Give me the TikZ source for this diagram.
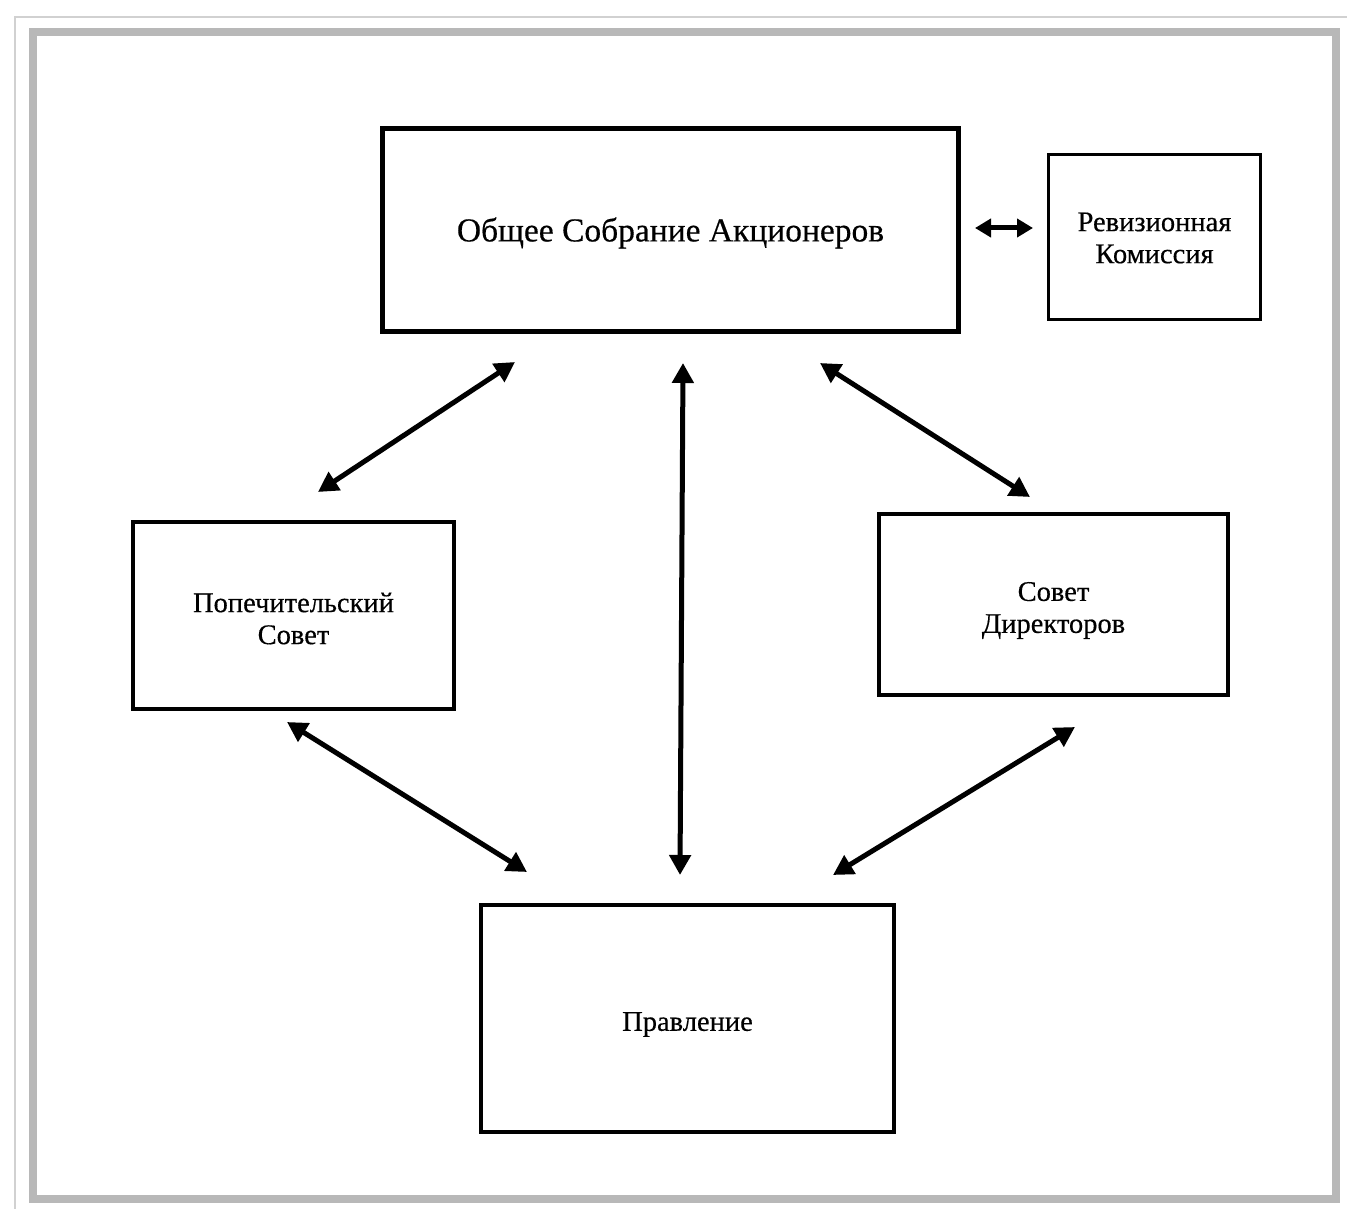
\documentclass[tikz,border=0pt]{standalone}
\usepackage{fontspec}
\setmainfont{Liberation Serif}
\newfontfamily\scanfont[FakeBold=0.4]{Liberation Serif}
\usetikzlibrary{arrows.meta}
\newcommand\lowered[2]{\raisebox{-#1}[\height][\depth]{#2}}
\begin{document}
\begin{tikzpicture}[x=1pt,y=-1pt,
  box/.style={draw=black, line width=4pt, rectangle, inner sep=0pt, align=center,
    font=\scanfont\fontsize{28.5}{32}\selectfont},
  conn/.style={line width=5pt, {Triangle[length=20pt,width=21pt]}-{Triangle[length=20pt,width=21pt]}},
  frameline/.style={draw=black!28, line width=8pt}]
\useasboundingbox (0,0) rectangle (1347,1209);
% frame
\draw[black!18, line width=2pt] (15,1209) -- (15,17) -- (1347,17);
\draw[frameline] (33,32) rectangle (1336,1199);
% nodes
\node[box, line width=5pt, minimum width=576pt, minimum height=203pt,
  font=\scanfont\fontsize{33.5}{36}\selectfont] (osa) at (670.5,230) {\lowered{3pt}{Общее Собрание Акционеров}};
\node[box, line width=3.5pt, minimum width=212pt, minimum height=165pt] (rev) at (1154.5,237) {\lowered{1pt}{Ревизионная}\\\lowered{1pt}{Комиссия}};
\node[box, minimum width=321pt, minimum height=187pt] (pop) at (293.5,615.5) {\lowered{3pt}{Попечительский}\\\lowered{3pt}{Совет}};
\node[box, minimum width=349pt, minimum height=181pt] (sd) at (1053.5,604.5) {\lowered{6pt}{Совет}\\\lowered{6pt}{Директоров}};
\node[box, minimum width=413pt, minimum height=227pt] (prav) at (687.5,1018.5) {\lowered{6pt}{Правление}};
% arrow end points
\coordinate (osaR) at (975,228);
\coordinate (revL) at (1033,228);
\coordinate (osaL) at (515,362);
\coordinate (popT) at (318,492);
\coordinate (osaB) at (683,363);
\coordinate (pravT) at (680,875);
\coordinate (osaRB) at (820,363);
\coordinate (sdT) at (1030,497);
\coordinate (popB) at (287,722);
\coordinate (pravL) at (527,872);
\coordinate (sdB) at (1075,727);
\coordinate (pravR) at (833,875);
% connectors
\draw[line width=5pt, {Triangle[length=16pt,width=18pt]}-{Triangle[length=16pt,width=18pt]}] (osaR) -- (revL);
\draw[conn] (osaL) -- (popT);
\draw[conn] (osaB) -- (pravT);
\draw[conn] (osaRB) -- (sdT);
\draw[conn] (popB) -- (pravL);
\draw[conn] (sdB) -- (pravR);
\end{tikzpicture}
\end{document}
